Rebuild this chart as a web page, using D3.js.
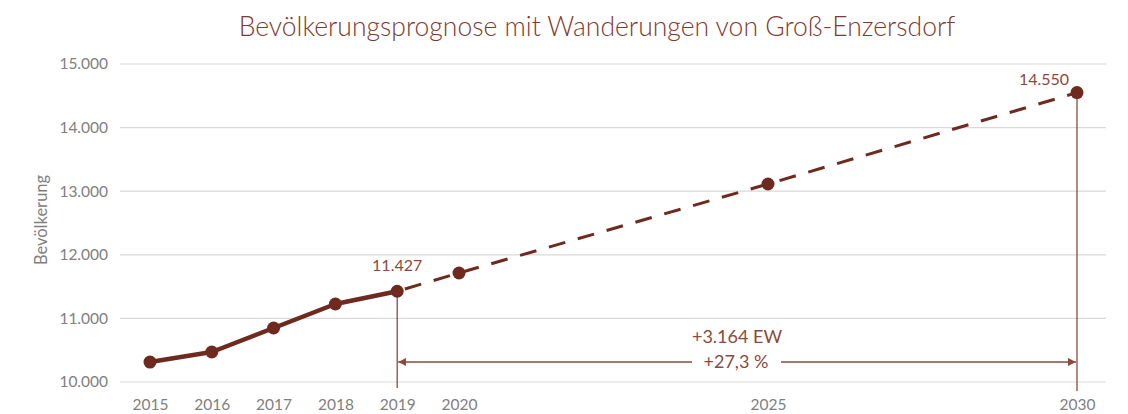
<!DOCTYPE html>
<html><head><meta charset="utf-8">
<script src="https://cdn.jsdelivr.net/npm/d3@7"></script>
<style>body{margin:0;background:#fff}svg{font-family:Lato,"Open Sans",sans-serif}</style>
</head><body><svg id="c" width="1128" height="414"></svg>
<script>
const histYears = [2015, 2016, 2017, 2018, 2019];
const histValues = [10314, 10472, 10849, 11226, 11427];
const progYears = [2019, 2020, 2025, 2030];
const progValues = [11427, 11714, 13113, 14550];
const xTickYears = [2015, 2016, 2017, 2018, 2019, 2020, 2025, 2030];
const yTicks = [10000, 11000, 12000, 13000, 14000, 15000];
const title = "Bevölkerungsprognose mit Wanderungen von Groß-Enzersdorf";
const yTitle = "Bevölkerung";
const growthLabels = ["+3.164 EW", "+27,3 %"];

const svg = d3.select("#c");
const x = d3.scaleLinear().domain([2015, 2030]).range([150, 1077]);
const y = d3.scaleLinear().domain([10000, 15000]).range([382, 64]);
const dark = "#6e2a1e", label = "#8a4a40", gray = "#808080";
const fmt = v => d3.format(",")(v).replace(/,/g, ".");

svg.append("text").attr("x", 597).attr("y", 36).attr("text-anchor", "middle")
  .attr("font-size", 26.5).attr("font-weight", 300).attr("fill", "#7f3a30").text(title);

svg.append("g").selectAll("line").data(yTicks).join("line")
  .attr("x1", 120).attr("x2", 1106).attr("y1", d => y(d)).attr("y2", d => y(d))
  .attr("stroke", "#d9d9d9").attr("stroke-width", 1.2);

const ya = svg.append("g").attr("transform", "translate(108,0)")
  .call(d3.axisLeft(y).tickValues(yTicks).tickSize(0).tickPadding(0).tickFormat(fmt));
ya.select(".domain").remove();
ya.selectAll("text").attr("font-size", 15.5).attr("fill", gray).attr("font-family", "Lato");

const xa = svg.append("g").attr("transform", "translate(0,382)")
  .call(d3.axisBottom(x).tickValues(xTickYears).tickSize(0).tickPadding(17).tickFormat(d3.format("d")));
xa.select(".domain").remove();
xa.selectAll("text").attr("font-size", 15.5).attr("fill", gray).attr("font-family", "Lato");

svg.append("text").attr("transform", "translate(47,220) rotate(-90)").attr("text-anchor", "middle")
  .attr("font-size", 16.5).attr("fill", gray).text(yTitle);

// vertical reference lines
svg.append("line").attr("x1", x(2019)).attr("x2", x(2019)).attr("y1", y(11427)).attr("y2", 388)
  .attr("stroke", label).attr("stroke-width", 1.3);
svg.append("line").attr("x1", x(2030)).attr("x2", x(2030)).attr("y1", y(14550)).attr("y2", 391)
  .attr("stroke", label).attr("stroke-width", 1.3);

// arrow
const defs = svg.append("defs");
defs.append("marker").attr("id", "ah").attr("viewBox", "0 0 10 10").attr("refX", 10).attr("refY", 5)
  .attr("markerWidth", 8).attr("markerHeight", 8).attr("markerUnits", "userSpaceOnUse").attr("orient", "auto-start-reverse")
  .append("path").attr("d", "M0,0L10,5L0,10Z").attr("fill", label);
const ay = 362;
svg.append("line").attr("x1", x(2019) + 1).attr("x2", 692).attr("y1", ay).attr("y2", ay)
  .attr("stroke", label).attr("stroke-width", 1.3).attr("marker-start", "url(#ah)");
svg.append("line").attr("x1", 781).attr("x2", x(2030) - 1).attr("y1", ay).attr("y2", ay)
  .attr("stroke", label).attr("stroke-width", 1.3).attr("marker-end", "url(#ah)");
svg.append("text").attr("x", 737).attr("y", 343).attr("text-anchor", "middle").attr("font-size", 18)
  .attr("fill", label).text(growthLabels[0]);
svg.append("text").attr("x", 736).attr("y", 368).attr("text-anchor", "middle").attr("font-size", 18)
  .attr("fill", label).text(growthLabels[1]);

// lines
const line = d3.line().x(d => x(d[0])).y(d => y(d[1]));
svg.append("path").datum(d3.zip(progYears, progValues)).attr("d", line)
  .attr("fill", "none").attr("stroke", dark).attr("stroke-width", 3).attr("stroke-dasharray", "17,13")
  .attr("stroke-dashoffset", -8);
svg.append("path").datum(d3.zip(histYears, histValues)).attr("d", line)
  .attr("fill", "none").attr("stroke", dark).attr("stroke-width", 4.5).attr("stroke-linejoin", "round");

const pts = d3.zip(histYears, histValues).concat(d3.zip(progYears, progValues).slice(1));
svg.append("g").selectAll("circle").data(pts).join("circle")
  .attr("cx", d => x(d[0])).attr("cy", d => y(d[1])).attr("r", 6.5).attr("fill", dark);

// value labels
svg.append("text").attr("x", x(2019)).attr("y", y(11427) - 20).attr("text-anchor", "middle")
  .attr("font-size", 16).attr("fill", label).text(fmt(11427));
svg.append("text").attr("x", x(2030) - 33).attr("y", y(14550) - 8).attr("text-anchor", "middle")
  .attr("font-size", 16).attr("fill", label).text(fmt(14550));
</script></body></html>
